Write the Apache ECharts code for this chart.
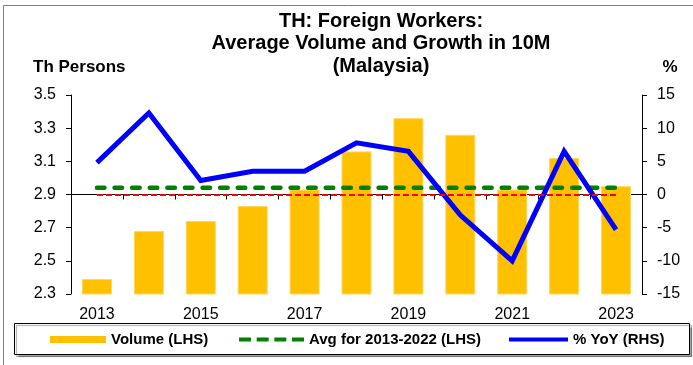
<!DOCTYPE html>
<html>
<head>
<meta charset="utf-8">
<script src="https://cdn.jsdelivr.net/npm/echarts@6/dist/echarts.min.js"></script>
<style>
  html, body { margin: 0; padding: 0; background: #fff; }
  #chart { width: 693px; height: 365px; }
</style>
</head>
<body>
<div id="chart"></div>
<script>
// Thai foreign workers from Malaysia, 10-month average volume and growth
const years = ['2013', '2014', '2015', '2016', '2017', '2018', '2019', '2020', '2021', '2022', '2023'];
const volume = [2.39, 2.68, 2.74, 2.83, 2.93, 3.16, 3.36, 3.26, 2.93, 3.12, 2.95];        // th persons
const avgVolume = [2.94, 2.94, 2.94, 2.94, 2.94, 2.94, 2.94, 2.94, 2.94, 2.94, 2.94];   // avg 2013-2022
const yoy = [4.8, 12.3, 2.1, 3.5, 3.5, 7.8, 6.5, -3.1, -10.0, 6.5, -5.3];                // % YoY
const yoyBaseline = 0;

const leftTicks = [2.3, 2.5, 2.7, 2.9, 3.1, 3.3, 3.5];
const rightTicks = [-15, -10, -5, 0, 5, 10, 15];

const titleLines = ['TH: Foreign Workers:', 'Average Volume and Growth in 10M', '(Malaysia)'];
const leftUnit = 'Th Persons';
const rightUnit = '%';
const seriesNames = ['Volume (LHS)', 'Avg for 2013-2022 (LHS)', '% YoY (RHS)'];

const FONT = '"Liberation Sans", Arial, sans-serif';
const chart = echarts.init(document.getElementById('chart'), null, { renderer: 'canvas' });

const legendText = { fontFamily: FONT, fontSize: 15, fontWeight: 'bold', color: '#000' };
const legendBase = {
  top: 332, padding: 0, selectedMode: false, z: 5,
  textStyle: legendText,
  itemStyle: { borderWidth: 0 },
  lineStyle: { width: 0 }
};
// four short dashes for the average-line key
const dashIcon = 'path://M0,0h12v4h-12z M17.7,0h12v4h-12z M35.4,0h12v4h-12z M53.1,0h12v4h-12z';

chart.setOption({
  animation: false,
  backgroundColor: '#fff',
  textStyle: { fontFamily: FONT },
  grid: { left: 71, right: 51, top: 95, bottom: 71 },
  graphic: [
    {
      type: 'rect', silent: true, z: -10,
      shape: { x: 3.5, y: 5.5, width: 720, height: 420 },
      style: { fill: '#fff', stroke: '#808080', lineWidth: 1 }
    },
    {
      type: 'rect', silent: true, z: 0,
      shape: { x: 14.5, y: 323.5, width: 675, height: 31 },
      style: { fill: '#fff', stroke: '#000', lineWidth: 1,
               shadowColor: 'rgba(0,0,0,0.35)', shadowOffsetX: 2, shadowOffsetY: 2, shadowBlur: 1 }
    },
    {
      type: 'text', silent: true,
      style: { text: titleLines.join('\n'), x: 381, y: 43.5, align: 'center', verticalAlign: 'middle',
               font: 'bold 20px ' + FONT, lineHeight: 22.5, fill: '#000' }
    },
    {
      type: 'text', silent: true,
      style: { text: leftUnit, x: 33, y: 67, align: 'left', verticalAlign: 'middle',
               font: 'bold 17px ' + FONT, fill: '#000' }
    },
    {
      type: 'text', silent: true,
      style: { text: rightUnit, x: 670, y: 67, align: 'center', verticalAlign: 'middle',
               font: 'bold 17px ' + FONT, fill: '#000' }
    }
  ],
  legend: [
    Object.assign({}, legendBase, { data: [seriesNames[0]], left: 50, icon: 'rect', itemWidth: 56, itemHeight: 7 }),
    Object.assign({}, legendBase, { data: [seriesNames[1]], left: 239, icon: dashIcon, itemWidth: 65, itemHeight: 4 }),
    Object.assign({}, legendBase, { data: [seriesNames[2]], left: 509, icon: 'rect', itemWidth: 59, itemHeight: 4 })
  ],
  xAxis: {
    type: 'category',
    data: years,
    boundaryGap: true,
    axisLine: { lineStyle: { color: '#000', width: 1 } },
    axisTick: { show: true, interval: 0, length: 5, alignWithLabel: false, lineStyle: { color: '#000' } },
    axisLabel: { interval: 1, margin: 13, color: '#000', fontSize: 16, fontFamily: FONT },
    splitLine: { show: false }
  },
  yAxis: [
    {
      type: 'value',
      position: 'left',
      min: leftTicks[0],
      max: leftTicks[leftTicks.length - 1],
      alignTicks: true,
      axisLine: { show: true, lineStyle: { color: '#000', width: 1 } },
      axisTick: { show: true, length: 5, lineStyle: { color: '#000' } },
      axisLabel: { margin: 15, color: '#000', fontSize: 16, fontFamily: FONT,
                   formatter: v => v.toFixed(1) },
      splitLine: { show: false }
    },
    {
      type: 'value',
      position: 'right',
      min: rightTicks[0],
      max: rightTicks[rightTicks.length - 1],
      interval: rightTicks[1] - rightTicks[0],
      axisLine: { show: true, lineStyle: { color: '#000', width: 1 } },
      axisTick: { show: true, length: 5, lineStyle: { color: '#000' } },
      axisLabel: { margin: 15, color: '#000', fontSize: 16, fontFamily: FONT },
      splitLine: { show: false }
    }
  ],
  series: [
    {
      name: seriesNames[0],
      type: 'bar',
      yAxisIndex: 0,
      data: volume,
      barWidth: 30,
      itemStyle: { color: '#FFC000', borderColor: '#FFD65C', borderWidth: 1 },
      z: 2
    },
    {
      name: seriesNames[1],
      type: 'line',
      yAxisIndex: 0,
      data: avgVolume,
      symbol: 'none',
      lineStyle: { color: '#008000', width: 4.5, type: [7.5, 10.1], cap: 'round' },
      itemStyle: { color: '#008000' },
      z: 3
    },
    {
      name: seriesNames[2],
      type: 'line',
      yAxisIndex: 1,
      data: yoy,
      symbol: 'none',
      lineStyle: { color: '#0000FF', width: 5, join: 'miter' },
      itemStyle: { color: '#0000FF' },
      z: 4,
      markLine: {
        silent: true,
        symbol: 'none',
        label: { show: false },
        lineStyle: { color: '#FF0000', width: 2, type: [6, 3] },
        data: [[{ coord: [years[0], yoyBaseline] }, { coord: [years[years.length - 1], yoyBaseline] }]]
      }
    }
  ]
});
</script>
</body>
</html>
